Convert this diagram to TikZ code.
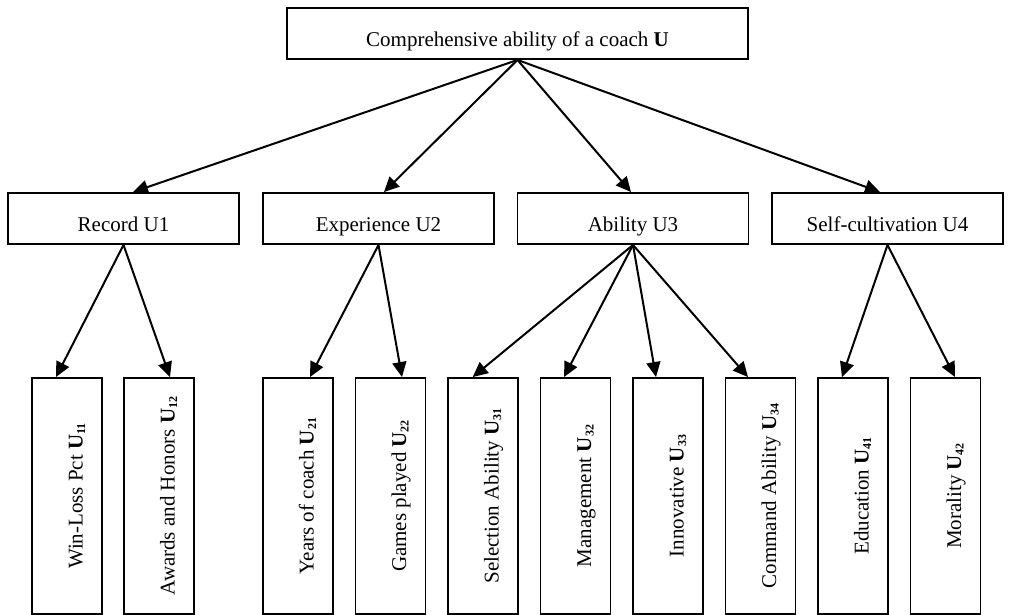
\documentclass[tikz,border=0pt]{standalone}
\usepackage{fontspec}
\setmainfont{Liberation Serif}
\usetikzlibrary{arrows.meta}
\newcommand{\mysub}[1]{\raisebox{-2.5pt}{\fontsize{12}{12}\selectfont\textbf{#1}}}
\begin{document}
\begin{tikzpicture}[x=1pt,y=-1pt,
  every node/.style={font=\fontsize{21}{25}\selectfont},
  topbox/.style={draw,line width=1.9pt,inner sep=0pt,minimum width=461pt,minimum height=51pt},
  midbox/.style={draw,line width=1.9pt,inner sep=0pt,minimum width=231pt,minimum height=51pt},
  botbox/.style={draw,line width=1.9pt,inner sep=0pt,minimum width=70pt,minimum height=236pt},
  hlabel/.style={anchor=base,inner sep=0pt},
  vlabel/.style={anchor=base,inner sep=0pt,rotate=90},
  arr/.style={line width=2pt,-{Triangle[length=15pt,width=14pt]}}]
\useasboundingbox (0,0) rectangle (1020,615);
% boxes
\node[topbox] (top) at (517.5,33.5) {};
\node[midbox] (m1) at (123.5,218.5) {};
\node[midbox] (m2) at (378.5,218.5) {};
\node[midbox] (m3) at (633,218.5) {};
\node[midbox] (m4) at (887.5,218.5) {};
\node[botbox] (b1) at (67,496) {};
\node[botbox] (b2) at (159,496) {};
\node[botbox] (b3) at (298,496) {};
\node[botbox] (b4) at (390.5,496) {};
\node[botbox] (b5) at (483,496) {};
\node[botbox] (b6) at (575.5,496) {};
\node[botbox] (b7) at (668,496) {};
\node[botbox] (b8) at (760.5,496) {};
\node[botbox] (b9) at (853,496) {};
\node[botbox] (b10) at (945.5,496) {};
% labels
\node[hlabel] (ttop) at ([yshift=-13pt]top.center) {Comprehensive ability of a coach \textbf{U}};
\node[hlabel] (tm1) at ([yshift=-13pt]m1.center) {Record U1};
\node[hlabel] (tm2) at ([yshift=-13pt]m2.center) {Experience U2};
\node[hlabel] (tm3) at ([yshift=-13pt]m3.center) {Ability U3};
\node[hlabel] (tm4) at ([yshift=-13pt]m4.center) {Self-cultivation U4};
\node[vlabel] (tb1) at ([xshift=15.5pt]b1.center) {Win-Loss Pct \textbf{U}\mysub{11}};
\node[vlabel] (tb2) at ([xshift=15.5pt]b2.center) {Awards and Honors \textbf{U}\mysub{12}};
\node[vlabel] (tb3) at ([xshift=15.5pt]b3.center) {Years of coach \textbf{U}\mysub{21}};
\node[vlabel] (tb4) at ([xshift=15.5pt]b4.center) {Games played \textbf{U}\mysub{22}};
\node[vlabel] (tb5) at ([xshift=15.5pt]b5.center) {Selection Ability \textbf{U}\mysub{31}};
\node[vlabel] (tb6) at ([xshift=15.5pt]b6.center) {Management \textbf{U}\mysub{32}};
\node[vlabel] (tb7) at ([xshift=15.5pt]b7.center) {Innovative \textbf{U}\mysub{33}};
\node[vlabel] (tb8) at ([xshift=15.5pt]b8.center) {Command Ability \textbf{U}\mysub{34}};
\node[vlabel] (tb9) at ([xshift=15.5pt]b9.center) {Education \textbf{U}\mysub{41}};
\node[vlabel] (tb10) at ([xshift=15.5pt]b10.center) {Morality \textbf{U}\mysub{42}};
% arrows
\draw[arr] (top.south) -- ([xshift=9.5pt]m1.north);
\draw[arr] (top.south) -- ([xshift=5.5pt]m2.north);
\draw[arr] (top.south) -- ([xshift=-2pt]m3.north);
\draw[arr] (top.south) -- ([xshift=-7.5pt]m4.north);
\draw[arr] (m1.south) -- ([xshift=-11pt]b1.north);
\draw[arr] (m1.south) -- ([xshift=11pt]b2.north);
\draw[arr] (m2.south) -- ([xshift=12pt]b3.north);
\draw[arr] (m2.south) -- ([xshift=11.5pt]b4.north);
\draw[arr] (m3.south) -- ([xshift=-10.3pt]b5.north);
\draw[arr] (m3.south) -- ([xshift=-11.5pt]b6.north);
\draw[arr] (m3.south) -- ([xshift=-12pt]b7.north);
\draw[arr] (m3.south) -- ([xshift=-12.5pt]b8.north);
\draw[arr] (m4.south) -- ([xshift=-11pt]b9.north);
\draw[arr] (m4.south) -- ([xshift=9.5pt]b10.north);
\end{tikzpicture}
\end{document}
